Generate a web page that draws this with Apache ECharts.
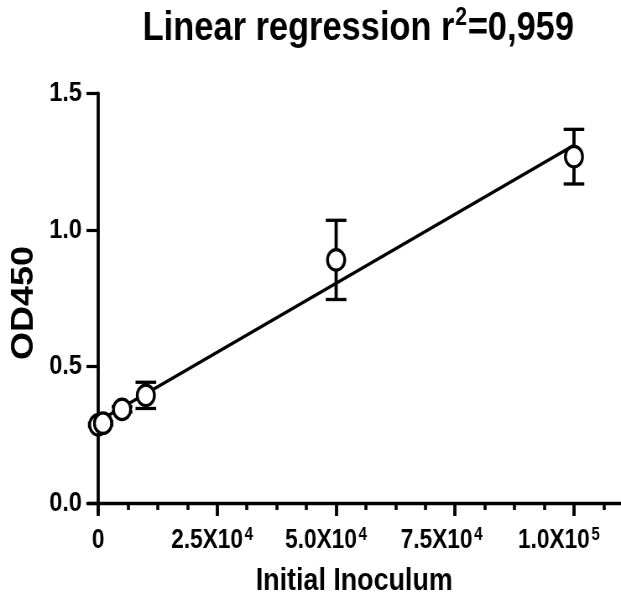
<!DOCTYPE html>
<html><head><meta charset="utf-8">
<script src="https://cdn.jsdelivr.net/npm/echarts@6/dist/echarts.min.js"></script>
<style>
html,body{margin:0;padding:0;background:#fff;overflow:hidden;}
#wrap{width:621px;height:595px;overflow:hidden;}
#chart{width:740px;height:595px;transform:scaleX(0.839189);transform-origin:0 0;}
</style></head><body><div id="wrap"><div id="chart"></div></div>
<script>
// ---- data ----
const inoculum   = [0, 1000, 5000, 10000, 50000, 100000];
const od450Mean  = [0.286, 0.292, 0.343, 0.394, 0.890, 1.268];
const od450Sd    = [0.006, 0.006, 0.010, 0.048, 0.145, 0.100];
const xMajorTicks = [0, 25000, 50000, 75000, 100000];
const xTickMain   = ['0', '2.5X10', '5.0X10', '7.5X10', '1.0X10'];
const xTickExp    = ['', '4', '4', '4', '5'];
const yTicks      = [0, 0.5, 1.0, 1.5];
const yTickLabels = ['0.0', '0.5', '1.0', '1.5'];
const titleMain = 'Linear regression r';
const titleSup = '2';
const titleTail = '=0,959';

// minor ticks every quarter of a major step
const xMinorTicks = [];
for (let i = 0; i < xMajorTicks.length; i++) {
  for (let k = 1; k < 4; k++) xMinorTicks.push(xMajorTicks[i] + k * 6250);
}

// least-squares fit of the means
const n = inoculum.length;
const mx = inoculum.reduce((a, b) => a + b, 0) / n;
const my = od450Mean.reduce((a, b) => a + b, 0) / n;
let sxy = 0, sxx = 0;
for (let i = 0; i < n; i++) { sxy += (inoculum[i] - mx) * (od450Mean[i] - my); sxx += (inoculum[i] - mx) ** 2; }
const slope = sxy / sxx, intercept = my - slope * mx;
const fitX = [inoculum[0], inoculum[n - 1]];

const FONT = '"Liberation Sans", Arial, sans-serif';
const labelShift = [0, 12, 24, 32, 36];
const richX = { m: { fontSize: 27, fontWeight: 'bold', fontFamily: FONT, color: '#000', lineHeight: 30 } };
for (let i = 0; i < xMajorTicks.length; i++) {
  richX['e' + i] = { fontSize: 18, fontWeight: 'bold', fontFamily: FONT, color: '#000', verticalAlign: 'top', padding: [0, labelShift[i], 0, 2] };
  richX['z' + i] = { fontSize: 27, fontWeight: 'bold', fontFamily: FONT, color: '#000', lineHeight: 30, padding: [0, labelShift[i], 0, 0] };
}

const chart = echarts.init(document.getElementById('chart'), null, { renderer: 'canvas' });
chart.setOption({
  animation: false,
  backgroundColor: '#fff',
  title: {
    text: '{t|' + titleMain + '}{s|' + titleSup + '}{t|' + titleTail + '}',
    left: 427, top: 6, padding: 0, textAlign: 'center',
    textStyle: {
      rich: {
        t: { fontSize: 41, fontWeight: 'bold', fontFamily: FONT, color: '#000', lineHeight: 46 },
        s: { fontSize: 25, fontWeight: 'bold', fontFamily: FONT, color: '#000', verticalAlign: 'top', padding: [0, 1, 0, 1] }
      }
    }
  },
  grid: { left: 104.6, right: 0.5, top: 93.3, bottom: 82.2, containLabel: false, outerBoundsMode: 'none' },
  xAxis: [{
    type: 'value', min: -2200, max: 109800, position: 'bottom',
    axisLine: { show: true, onZero: true, lineStyle: { color: '#000', width: 3.4 } },
    axisTick: { show: true, customValues: xMajorTicks, length: 13, lineStyle: { color: '#000', width: 3.8 } },
    axisLabel: {
      show: true, customValues: xMajorTicks, margin: 13, hideOverlap: false,
      formatter: function (v) {
        const i = xMajorTicks.indexOf(v);
        return xTickExp[i] ? '{m|' + xTickMain[i] + '}{e' + i + '|' + xTickExp[i] + '}' : '{z' + i + '|' + xTickMain[i] + '}';
      },
      rich: richX
    },
    splitLine: { show: false },
    name: 'Initial Inoculum', nameLocation: 'middle', nameGap: 52,
    nameTextStyle: { fontSize: 32, fontWeight: 'bold', fontFamily: FONT, color: '#000' }
  }, {
    type: 'value', min: -2200, max: 109800, position: 'bottom', offset: -9.83,
    axisLine: { show: false, onZero: false },
    axisTick: { show: true, customValues: xMinorTicks, length: 7, lineStyle: { color: '#000', width: 3.6 } },
    axisLabel: { show: false },
    splitLine: { show: false }
  }],
  yAxis: {
    type: 'value', min: -0.036, max: 1.5,
    axisLine: { show: true, onZero: true, lineStyle: { color: '#000', width: 3.8 } },
    axisTick: { show: true, customValues: yTicks, length: 14, lineStyle: { color: '#000', width: 3.2 } },
    axisLabel: {
      show: true, customValues: yTicks, margin: 7,
      formatter: function (v) { return yTickLabels[yTicks.indexOf(v)]; },
      fontSize: 28, fontWeight: 'bold', fontFamily: FONT, color: '#000'
    },
    splitLine: { show: false },
    name: 'OD450', nameLocation: 'middle', nameGap: 58,
    nameTextStyle: { fontSize: 36, fontWeight: 'bold', fontFamily: FONT, color: '#000' }
  },
  series: [{
    type: 'line', xAxisIndex: 0, data: fitX.map(x => [x, intercept + slope * x]),
    symbol: 'none', lineStyle: { color: '#000', width: 3.4 }, z: 1, silent: true
  }, {
    type: 'custom', xAxisIndex: 0, z: 2, silent: true,
    data: inoculum.map((x, i) => [x, od450Mean[i] - od450Sd[i], od450Mean[i] + od450Sd[i]]),
    renderItem: function (params, api) {
      const x = api.value(0);
      const top = api.coord([x, api.value(2)]);
      const bot = api.coord([x, api.value(1)]);
      const hw = 12.3;
      const st = { stroke: '#000', lineWidth: 3.3 };
      return { type: 'group', children: [
        { type: 'line', shape: { x1: top[0], y1: top[1], x2: bot[0], y2: bot[1] }, style: { stroke: '#000', lineWidth: 3.8 } },
        { type: 'line', shape: { x1: top[0] - hw, y1: top[1], x2: top[0] + hw, y2: top[1] }, style: st },
        { type: 'line', shape: { x1: bot[0] - hw, y1: bot[1], x2: bot[0] + hw, y2: bot[1] }, style: st }
      ] };
    }
  }, {
    type: 'scatter', xAxisIndex: 0, z: 3,
    data: inoculum.map((x, i) => [x, od450Mean[i]]),
    symbol: 'circle', symbolSize: 20.5,
    itemStyle: { color: '#fff', borderColor: '#000', borderWidth: 3.3, opacity: 1 }
  }]
});
</script></body></html>
